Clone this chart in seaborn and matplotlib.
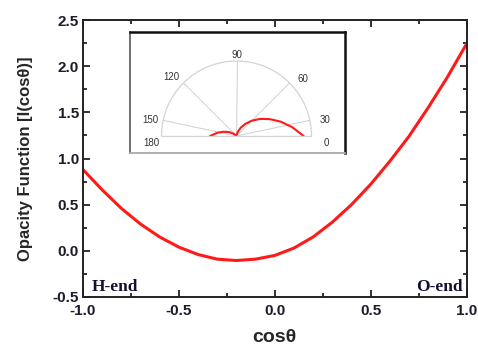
import numpy as np
import pandas as pd
import matplotlib
matplotlib.use("Agg")
import matplotlib.pyplot as plt
import seaborn as sns
from matplotlib.ticker import MultipleLocator, FormatStrFormatter

# ---- data ----
cos_theta = [-1.0, -0.9, -0.8, -0.7, -0.6, -0.5, -0.4, -0.3, -0.2, -0.1, 0.0,
             0.1, 0.2, 0.3, 0.4, 0.5, 0.6, 0.7, 0.8, 0.9, 1.0]
opacity = [0.88, 0.66, 0.46, 0.29, 0.15, 0.04, -0.04, -0.09, -0.105, -0.09, -0.05,
           0.03, 0.15, 0.31, 0.50, 0.72, 0.97, 1.24, 1.55, 1.88, 2.24]
polar_labels = [0, 30, 60, 90, 120, 150, 180]
end_labels = ["H-end", "O-end"]

sns.set_theme(style="ticks")
plt.rcParams["font.family"] = ["Liberation Sans", "DejaVu Sans"]
plt.rcParams["axes.unicode_minus"] = False

df = pd.DataFrame({"x": cos_theta, "y": opacity})
# inset: angular position linear in cos(theta)
df["phi"] = np.deg2rad(90.0 * (1.0 - df["x"]))

W, H = 478.0, 349.0
fig = plt.figure(figsize=(4.78, 3.49), dpi=100)
ax = fig.add_axes([83 / W, 1 - 297 / H, 383.5 / W, 277 / H])

sns.lineplot(data=df, x="x", y="y", ax=ax, color="#ff1a1a", lw=2.2, sort=False)
ax.set_xlim(-1.0, 1.0)
ax.set_ylim(-0.5, 2.5)
ax.xaxis.set_major_locator(MultipleLocator(0.5))
ax.xaxis.set_minor_locator(MultipleLocator(0.25))
ax.yaxis.set_major_locator(MultipleLocator(0.5))
ax.yaxis.set_minor_locator(MultipleLocator(0.25))
ax.xaxis.set_major_formatter(FormatStrFormatter("%.1f"))
ax.yaxis.set_major_formatter(FormatStrFormatter("%.1f"))
ax.tick_params(which="both", direction="in", top=True, right=True, width=1.3,
               color="#222222")
ax.tick_params(which="major", length=5, labelsize=11)
ax.tick_params(axis="x", which="major", pad=5)
ax.tick_params(axis="y", which="major", pad=3)
ax.tick_params(which="minor", length=3)
for lab in ax.get_xticklabels() + ax.get_yticklabels():
    lab.set_fontweight("bold")
    lab.set_color("#1c1c2a")
for s in ax.spines.values():
    s.set_linewidth(1.4)
    s.set_color("#222222")
ax.set_xlabel("cos\u03b8", fontsize=14, fontweight="bold", labelpad=8)
ax.set_ylabel("Opacity Function [I(cos\u03b8)]", fontsize=12, fontweight="bold",
              labelpad=14)

ax.text(-0.955, -0.44, end_labels[0], family="Liberation Serif", fontweight="bold",
        fontsize=12.5, color="#101030", ha="left", va="baseline")
ax.text(0.978, -0.44, end_labels[1], family="Liberation Serif", fontweight="bold",
        fontsize=12.5, color="#101030", ha="right", va="baseline")

# ---- inset frame ----
box = fig.add_axes([130 / W, 1 - 153 / H, 215 / W, 121.3 / H])
box.set_xticks([])
box.set_yticks([])
box.set_facecolor("white")
box.spines["top"].set_color("#111111")
box.spines["right"].set_color("#111111")
box.spines["top"].set_linewidth(1.8)
box.spines["right"].set_linewidth(1.8)
box.spines["left"].set_color("#666666")
box.spines["left"].set_linewidth(1.3)
box.spines["bottom"].set_color("#aaaaaa")
box.spines["bottom"].set_linewidth(1.3)

# ---- inset polar (square box; half-disc sits in its middle band) ----
R = 75.0
cx, cy = 236.5, 136.0
pax = fig.add_axes([(cx - R) / W, 1 - (cy + R / 2) / H, 2 * R / W, 2 * R / H],
                   projection="polar")
pax.set_thetamin(0)
pax.set_thetamax(180)
pax.set_ylim(0, 2.5)
pax.set_facecolor("none")
sns.lineplot(data=df, x="phi", y="y", ax=pax, color="#ff1a1a", lw=1.5, sort=False)
pax.set_xlabel("")
pax.set_ylabel("")
grid_phi = np.deg2rad(90.0 * (1.0 - np.cos(np.deg2rad(polar_labels))))
pax.set_xticks(grid_phi)
pax.set_xticklabels([])
pax.set_yticks([])
pax.grid(True, color="#d4d4d4", lw=0.8)
pax.tick_params(length=0)
for name, s in pax.spines.items():
    s.set_color("#d4d4d4")
    s.set_linewidth(0.9)

label_pos = {0: (-4.6, 3.02), 30: (10.25, 3.0), 60: (40.6, 2.9), 90: (90, 2.7),
             120: (137.5, 2.93), 150: (169.5, 2.93), 180: (184.9, 2.84)}
for lab in polar_labels:
    ang, rr = label_pos[lab]
    pax.text(np.deg2rad(ang), rr, str(lab), fontsize=7, color="#333333",
             ha="center", va="center", clip_on=False)

fig.savefig("out.png", dpi=100)
